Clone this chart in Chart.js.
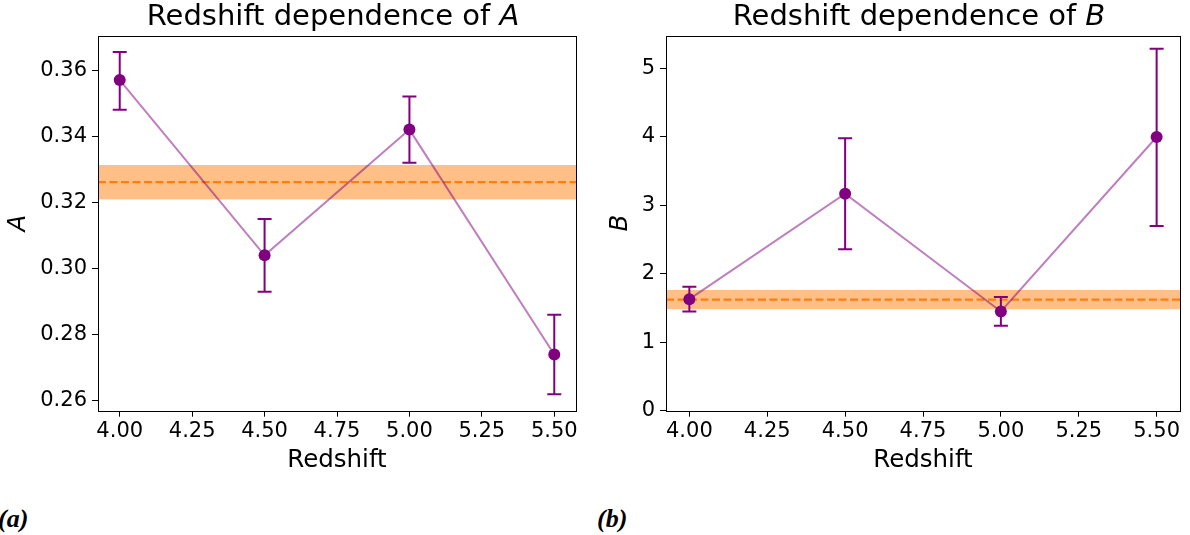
<!DOCTYPE html>
<html><head><meta charset="utf-8">
<script src="https://cdn.jsdelivr.net/npm/chart.js@4.4.0/dist/chart.umd.min.js"></script>
<style>
html,body{margin:0;padding:0;background:#fff;width:1190px;height:535px;overflow:hidden;position:relative;}
.wrap{position:absolute;top:0;width:595px;height:490px;}
.lab{position:absolute;font-family:"Liberation Serif","DejaVu Serif",serif;font-weight:bold;font-style:italic;font-size:26px;line-height:26px;color:#000;}
</style></head><body>
<div class="wrap" style="left:0"><canvas id="cA" width="595" height="490"></canvas></div>
<div class="wrap" style="left:595px"><canvas id="cB" width="595" height="490"></canvas></div>
<div class="lab" style="left:-2px;top:506px">(a)</div>
<div class="lab" style="left:597px;top:506px">(b)</div>
<script>
// ---- data ----
const redshift = [4.00, 4.50, 5.00, 5.50];
const xTicks = [4.00, 4.25, 4.50, 4.75, 5.00, 5.25, 5.50];

const A_values = [0.357, 0.304, 0.342, 0.274];
const A_lower  = [0.348, 0.293, 0.332, 0.262];
const A_upper  = [0.3655, 0.315, 0.352, 0.286];
const A_mean = 0.3261;
const A_band = [0.3209, 0.3313];
const A_ticks = [0.26, 0.28, 0.30, 0.32, 0.34, 0.36];

const B_values = [1.63, 3.17, 1.45, 4.00];
const B_lower  = [1.45, 2.36, 1.24, 2.70];
const B_upper  = [1.81, 3.98, 1.66, 5.29];
const B_mean = 1.622;
const B_band = [1.483, 1.764];
const B_ticks = [0, 1, 2, 3, 4, 5];

const PURPLE = '#800080';
const FONT = 'DejaVu Sans';

function makeChart(id, cfg) {
  const pts = redshift.map((x, i) => ({x: x, y: cfg.values[i]}));
  const overlay = {
    id: 'overlay',
    beforeDatasetsDraw(chart) {
      const {ctx, chartArea: a, scales: {x, y}} = chart;
      ctx.save();
      ctx.beginPath(); ctx.rect(a.left, a.top, a.right - a.left, a.bottom - a.top); ctx.clip();
      const yHi = y.getPixelForValue(cfg.band[1]);
      const yLo = y.getPixelForValue(cfg.band[0]);
      ctx.fillStyle = 'rgba(255,127,14,0.5)';
      ctx.fillRect(a.left, yHi, a.right - a.left, yLo - yHi);
      const ym = y.getPixelForValue(cfg.mean);
      ctx.strokeStyle = '#ff7f0e';
      ctx.lineWidth = 2.2;
      ctx.setLineDash([8, 3.5]);
      ctx.beginPath(); ctx.moveTo(a.left, ym); ctx.lineTo(a.right, ym); ctx.stroke();
      ctx.restore();
    },
    afterDatasetsDraw(chart) {
      const {ctx, scales: {x, y}} = chart;
      ctx.save();
      ctx.strokeStyle = PURPLE;
      ctx.lineWidth = 2;
      redshift.forEach((rx, i) => {
        const px = x.getPixelForValue(rx);
        const p1 = y.getPixelForValue(cfg.upper[i]);
        const p0 = y.getPixelForValue(cfg.lower[i]);
        ctx.beginPath();
        ctx.moveTo(px, p1); ctx.lineTo(px, p0);
        ctx.moveTo(px - 7, p1); ctx.lineTo(px + 7, p1);
        ctx.moveTo(px - 7, p0); ctx.lineTo(px + 7, p0);
        ctx.stroke();
      });
      ctx.fillStyle = PURPLE;
      redshift.forEach((rx, i) => {
        ctx.beginPath();
        ctx.arc(x.getPixelForValue(rx), y.getPixelForValue(cfg.values[i]), 6, 0, Math.PI * 2);
        ctx.fill();
      });
      ctx.restore();
    },
    afterDraw(chart) {
      const {ctx, chartArea: a} = chart;
      ctx.save();
      ctx.strokeStyle = '#000';
      ctx.lineWidth = 1;
      ctx.strokeRect(Math.round(a.left) + 0.5, Math.round(a.top) + 0.5, Math.round(a.right - a.left), Math.round(a.bottom - a.top));
      ctx.fillStyle = '#000';
      ctx.textBaseline = 'alphabetic';
      const f1 = 'normal 29px "' + FONT + '"';
      const f2 = 'italic 29px "' + FONT + '"';
      ctx.font = f1; const w1 = ctx.measureText(cfg.title).width;
      ctx.font = f2; const w2 = ctx.measureText(cfg.sym).width;
      const cx = (a.left + a.right) / 2 - 4;
      const x0 = cx - (w1 + w2) / 2;
      ctx.font = f1; ctx.fillText(cfg.title, x0, 25);
      ctx.font = f2; ctx.fillText(cfg.sym, x0 + w1, 25);
      ctx.restore();
    }
  };
  return new Chart(document.getElementById(id), {
    type: 'scatter',
    data: {
      datasets: [{
        data: pts,
        showLine: true,
        borderColor: 'rgba(128,0,128,0.5)',
        borderWidth: 2,
        pointRadius: 0,
        fill: false
      }]
    },
    options: {
      responsive: false,
      animation: false,
      devicePixelRatio: 1,
      layout: {padding: {left: 0, top: 35.7, right: cfg.padRight, bottom: 0}},
      plugins: {legend: {display: false}, tooltip: {enabled: false}, title: {display: false}},
      scales: {
        x: {
          type: 'linear', min: 3.925, max: 5.575,
          afterBuildTicks: s => { s.ticks = xTicks.map(v => ({value: v})); },
          afterFit: s => { s.height = 490 - 410.7; },
          ticks: {font: {family: FONT, size: 21}, color: '#000', padding: 2, maxRotation: 0,
                  callback: v => Number(v).toFixed(2)},
          grid: {display: true, drawOnChartArea: false, drawTicks: true, tickLength: 6, tickColor: '#000', tickWidth: 1},
          border: {display: false},
          title: {display: true, text: 'Redshift', color: '#000', font: {family: FONT, size: 24.5}, padding: {top: 0, bottom: 15}}
        },
        y: {
          type: 'linear', min: cfg.ymin, max: cfg.ymax,
          afterBuildTicks: s => { s.ticks = cfg.ticks.map(v => ({value: v})); },
          afterFit: s => { s.width = cfg.axisLeft; },
          ticks: {font: {family: FONT, size: 21}, color: '#000', padding: 5,
                  callback: v => cfg.fmt(v)},
          grid: {display: true, drawOnChartArea: false, drawTicks: true, tickLength: 6, tickColor: '#000', tickWidth: 1},
          border: {display: false},
          title: {display: true, text: cfg.sym, color: '#000', font: {family: FONT, size: 24.5, style: 'italic'}, padding: {top: cfg.ylabPad, bottom: 0}}
        }
      }
    },
    plugins: [overlay]
  });
}

makeChart('cA', {
  values: A_values, lower: A_lower, upper: A_upper, mean: A_mean, band: A_band, ticks: A_ticks,
  ymin: 0.2570, ymax: 0.3704, axisLeft: 98, padRight: 19, ylabPad: 4,
  title: 'Redshift dependence of ', sym: 'A', fmt: v => Number(v).toFixed(2)
});
makeChart('cB', {
  values: B_values, lower: B_lower, upper: B_upper, mean: B_mean, band: B_band, ticks: B_ticks,
  ymin: 0, ymax: 5.48, axisLeft: 71, padRight: 10, ylabPad: 11,
  title: 'Redshift dependence of ', sym: 'B', fmt: v => String(Math.round(v))
});
</script>
</body></html>
